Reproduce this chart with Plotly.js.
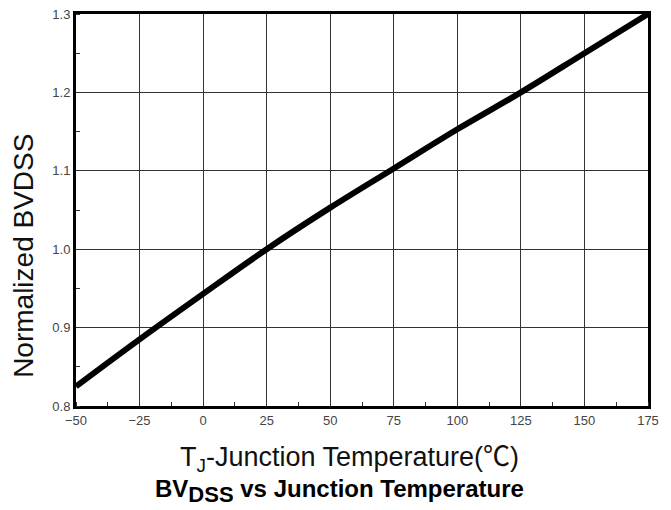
<!DOCTYPE html>
<html><head><meta charset="utf-8">
<script src="https://cdn.plot.ly/plotly-3.0.1.min.js"></script>
<style>body{margin:0;padding:0;background:#fff}#chart{width:671px;height:510px}</style>
</head><body><div id="chart"></div>
<script>
const temperature = [-50, -25, 0, 25, 50, 75, 100, 125, 150, 175];
const normalizedBVDSS = [0.825, 0.885, 0.943, 1.0, 1.053, 1.103, 1.153, 1.2, 1.25, 1.3];
const xTickVals = [-50, -25, 0, 25, 50, 75, 100, 125, 150, 175];
const yTickVals = [0.8, 0.9, 1.0, 1.1, 1.2, 1.3];
const xTitle = 'T<sub>J</sub>-Junction Temperature(<span style="font-family:\'Noto Sans CJK SC\'">℃</span>)';
const yTitle = 'Normalized BVDSS';
const chartTitle = '<b>BV<sub><span style="font-size:22px">DSS</span></sub> vs Junction Temperature</b>';

const trace = {
  x: temperature, y: normalizedBVDSS, type: 'scatter', mode: 'lines',
  line: {color: '#000', width: 6, shape: 'spline', smoothing: 1}, hoverinfo: 'none'
};
const layout = {
  width: 671, height: 510,
  margin: {l: 76, r: 23, t: 14, b: 104},
  paper_bgcolor: '#fff', plot_bgcolor: '#fff',
  showlegend: false,
  font: {family: 'Liberation Sans, Arial, sans-serif', color: '#000'},
  xaxis: {
    range: [-50, 175], tickvals: xTickVals, ticks: '',
    showgrid: true, gridcolor: '#333', gridwidth: 1,
    showline: true, linecolor: '#000', linewidth: 3, mirror: true,
    zeroline: false,
    tickfont: {size: 13, color: '#444'},
    minor: {ticks: 'inside', dtick: 12.5, tick0: -50, ticklen: 4, tickcolor: '#333', showgrid: false}
  },
  yaxis: {
    range: [0.8, 1.3], tickvals: yTickVals, tickformat: '.1f', ticks: '',
    showgrid: true, gridcolor: '#333', gridwidth: 1,
    showline: true, linecolor: '#000', linewidth: 3, mirror: true,
    zeroline: false,
    tickfont: {size: 13, color: '#444'},
    minor: {ticks: 'inside', dtick: 0.05, tick0: 0.8, ticklen: 4, tickcolor: '#333', showgrid: false}
  },
  annotations: [
    {xref: 'paper', yref: 'paper', x: 0.479, y: 0, yshift: -49, xanchor: 'center', yanchor: 'middle',
     showarrow: false, text: xTitle, font: {size: 27, color: '#111'}},
    {xref: 'paper', yref: 'paper', x: 0, xshift: -52, y: 0.383, xanchor: 'center', yanchor: 'middle',
     textangle: -90, showarrow: false, text: yTitle, font: {size: 28, color: '#111'}},
    {xref: 'paper', yref: 'paper', x: 0.4615, y: 0, yshift: -85, xanchor: 'center', yanchor: 'middle',
     showarrow: false, text: chartTitle, font: {size: 24, color: '#000'}}
  ]
};
Plotly.newPlot('chart', [trace], layout, {displayModeBar: false, staticPlot: true});
</script></body></html>
